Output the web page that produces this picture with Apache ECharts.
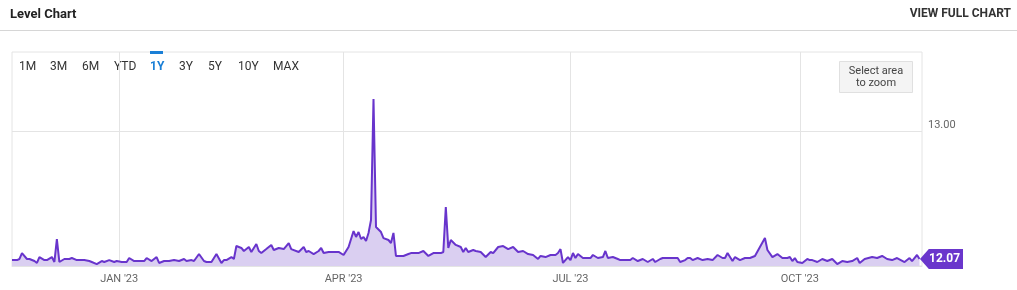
<!DOCTYPE html>
<html>
<head>
<meta charset="utf-8">
<script src="https://cdn.jsdelivr.net/npm/echarts@6/dist/echarts.min.js"></script>
<style>
html,body{margin:0;padding:0;background:#fff;}
#chart{width:1017px;height:290px;}
</style>
</head>
<body>
<div id="chart"></div>
<script>
// ---- data ----
const DATES = [
'2022-11-19','2022-11-21','2022-11-22','2022-11-23','2022-11-25','2022-11-26','2022-11-28','2022-11-29','2022-11-30',
'2022-12-02','2022-12-03','2022-12-05','2022-12-06','2022-12-07','2022-12-08','2022-12-10','2022-12-12','2022-12-13',
'2022-12-15','2022-12-18','2022-12-20','2022-12-21','2022-12-23','2022-12-25','2022-12-26','2022-12-28','2022-12-30','2022-12-31',
'2023-01-02','2023-01-04','2023-01-05','2023-01-07','2023-01-09','2023-01-11','2023-01-12','2023-01-14','2023-01-16','2023-01-17',
'2023-01-19','2023-01-21','2023-01-23','2023-01-25','2023-01-27','2023-01-28','2023-01-30','2023-01-31',
'2023-02-02','2023-02-04','2023-02-05','2023-02-07','2023-02-09','2023-02-11','2023-02-12','2023-02-13','2023-02-15','2023-02-16',
'2023-02-17','2023-02-19','2023-02-20','2023-02-22','2023-02-23','2023-02-25','2023-02-26','2023-02-27',
'2023-03-01','2023-03-03','2023-03-04','2023-03-06','2023-03-08','2023-03-10','2023-03-11','2023-03-14','2023-03-16','2023-03-17',
'2023-03-18','2023-03-20','2023-03-22','2023-03-23','2023-03-24','2023-03-26','2023-03-28','2023-03-30',
'2023-04-01','2023-04-03','2023-04-05','2023-04-06','2023-04-07','2023-04-08','2023-04-09','2023-04-10','2023-04-11','2023-04-12',
'2023-04-13','2023-04-14','2023-04-16','2023-04-17','2023-04-19','2023-04-20','2023-04-21','2023-04-22','2023-04-25','2023-04-27',
'2023-04-28','2023-04-30',
'2023-05-01','2023-05-03','2023-05-05','2023-05-07','2023-05-08','2023-05-10','2023-05-11','2023-05-12','2023-05-13','2023-05-14',
'2023-05-16','2023-05-18','2023-05-19','2023-05-20','2023-05-21','2023-05-23','2023-05-24','2023-05-26','2023-05-28','2023-05-30','2023-05-31',
'2023-06-02','2023-06-04','2023-06-06','2023-06-08','2023-06-10','2023-06-12','2023-06-14','2023-06-16','2023-06-18','2023-06-19',
'2023-06-21','2023-06-23','2023-06-25','2023-06-26','2023-06-27','2023-06-28','2023-06-30',
'2023-07-01','2023-07-02','2023-07-03','2023-07-04','2023-07-06','2023-07-07','2023-07-09','2023-07-10','2023-07-12','2023-07-14',
'2023-07-15','2023-07-16','2023-07-18','2023-07-20','2023-07-21','2023-07-23','2023-07-25','2023-07-26','2023-07-28','2023-07-30',
'2023-08-01','2023-08-03','2023-08-04','2023-08-06','2023-08-07','2023-08-09','2023-08-10','2023-08-12','2023-08-13','2023-08-14',
'2023-08-16','2023-08-17','2023-08-18','2023-08-19','2023-08-21','2023-08-23','2023-08-25','2023-08-27','2023-08-29','2023-08-31',
'2023-09-01','2023-09-02','2023-09-04','2023-09-05','2023-09-07','2023-09-09','2023-09-11','2023-09-13','2023-09-15','2023-09-17',
'2023-09-18','2023-09-20','2023-09-22','2023-09-24','2023-09-26','2023-09-27','2023-09-28','2023-09-29','2023-09-30',
'2023-10-02','2023-10-04','2023-10-05','2023-10-06','2023-10-08','2023-10-10','2023-10-12','2023-10-14','2023-10-16','2023-10-18',
'2023-10-20','2023-10-22','2023-10-24','2023-10-25','2023-10-27','2023-10-30',
'2023-11-01','2023-11-03','2023-11-05','2023-11-07','2023-11-09','2023-11-12','2023-11-14','2023-11-15','2023-11-17','2023-11-18'
];
const VALUES = [
12.062,12.062,12.070,12.113,12.070,12.070,12.055,12.041,12.084,
12.062,12.062,12.084,12.048,12.215,12.048,12.070,12.070,12.077,
12.062,12.062,12.055,12.048,12.033,12.055,12.048,12.062,12.048,12.055,
12.048,12.048,12.077,12.055,12.055,12.055,12.077,12.055,12.084,12.041,
12.055,12.055,12.062,12.055,12.070,12.055,12.062,12.055,
12.106,12.055,12.048,12.048,12.106,12.041,12.062,12.062,12.084,12.070,
12.164,12.150,12.128,12.157,12.121,12.179,12.128,12.113,
12.142,12.172,12.135,12.150,12.142,12.186,12.142,12.121,12.157,12.121,
12.128,12.106,12.128,12.150,12.113,12.121,12.121,12.121,
12.099,12.157,12.273,12.230,12.266,12.215,12.230,12.201,12.259,12.353,
13.233,12.302,12.266,12.222,12.208,12.186,12.259,12.092,12.092,12.106,
12.113,12.113,
12.113,12.128,12.092,12.113,12.113,12.113,12.121,12.448,12.150,12.208,
12.172,12.157,12.121,12.150,12.121,12.135,12.128,12.121,12.084,12.121,12.113,
12.157,12.164,12.142,12.157,12.121,12.128,12.106,12.099,12.070,12.092,
12.084,12.099,12.099,12.113,12.142,12.041,12.084,
12.062,12.113,12.077,12.106,12.077,12.077,12.077,12.099,12.077,12.084,
12.128,12.077,12.084,12.070,12.062,12.062,12.062,12.077,12.055,12.070,
12.048,12.070,12.048,12.070,12.077,12.077,12.077,12.077,12.077,12.048,
12.062,12.077,12.077,12.062,12.077,12.062,12.070,12.062,12.099,12.077,
12.077,12.113,12.055,12.084,12.062,12.077,12.077,12.092,12.157,12.222,
12.135,12.084,12.106,12.077,12.077,12.084,12.055,12.077,12.048,
12.041,12.070,12.062,12.062,12.048,12.070,12.055,12.070,12.033,12.055,
12.048,12.055,12.077,12.041,12.070,12.084,
12.077,12.092,12.070,12.062,12.077,12.048,12.077,12.055,12.099,12.070
];
const X_TICKS = ['2023-01-01','2023-04-01','2023-07-01','2023-10-01'];
const X_TICK_LABELS = ["JAN '23","APR '23","JUL '23","OCT '23"];
const Y_TICKS = [13];
const RANGE_BUTTONS = ['1M','3M','6M','YTD','1Y','3Y','5Y','10Y','MAX'];
const ACTIVE_RANGE = '1Y';
const X_MIN = '2022-11-19', X_MAX = '2023-11-19';
const Y_MIN = 12.019, Y_MAX = 13.574;
const LAST_LABEL = '12.07';

// ---- chart ----
function toTs(s){const p=s.split('-').map(Number);return Date.UTC(p[0],p[1]-1,p[2]);}
const seriesData = DATES.map((d,i)=>[toTs(d),VALUES[i]]);
const xTickTs = X_TICKS.map(toTs);
const FONT = 'Roboto, "Noto Sans", sans-serif';
const LINE = '#6834cc';
const BLUE = '#1a7fd6';

const btnX = [19,50,82,114,150,179,208,238,273];
const graphics = [
  {type:'text', left:10, top:8, style:{text:'Level Chart', font:'bold 13px '+FONT, fill:'#222'}},
  {type:'text', right:6, top:8, style:{text:'VIEW FULL CHART', font:'bold 12px '+FONT, fill:'#333'}},
  {type:'rect', shape:{x:0,y:30,width:1017,height:1}, style:{fill:'#d6d6d6'}},
  {type:'rect', shape:{x:839.5,y:61.5,width:73,height:31}, style:{fill:'#f4f4f4', stroke:'#e0e0e0', lineWidth:1}},
  {type:'text', x:876, y:71, style:{text:'Select area', font:'11px '+FONT, fill:'#444', align:'center', verticalAlign:'middle'}},
  {type:'text', x:876, y:83, style:{text:'to zoom', font:'11px '+FONT, fill:'#444', align:'center', verticalAlign:'middle'}}
];
RANGE_BUTTONS.forEach((b,i)=>{
  const active = b===ACTIVE_RANGE;
  graphics.push({type:'text', x:btnX[i], y:67, style:{text:b, font:(active?'bold ':'')+'12px '+FONT, fill:active?BLUE:'#333', verticalAlign:'middle'}});
  if(active) graphics.push({type:'rect', shape:{x:btnX[i],y:51,width:13,height:3}, style:{fill:BLUE}});
});

const chart = echarts.init(document.getElementById('chart'), null, {renderer:'canvas'});
chart.setOption({
  animation:false,
  backgroundColor:'#fff',
  textStyle:{fontFamily:FONT},
  grid:{left:12, right:95, top:52, bottom:24, show:true, borderColor:'#e4e4e4', borderWidth:1, containLabel:false},
  xAxis:{
    type:'value', min:toTs(X_MIN), max:toTs(X_MAX),
    axisLine:{show:true, lineStyle:{color:'#e4e4e4'}},
    axisTick:{show:false, customValues:xTickTs},
    splitLine:{show:true, lineStyle:{color:'#e4e4e4', width:1}},
    axisLabel:{customValues:xTickTs, color:'#666', fontSize:11, margin:8, fontFamily:FONT,
      formatter:function(v){const i=xTickTs.indexOf(v);return i>=0?X_TICK_LABELS[i]:'';}}
  },
  yAxis:{
    type:'value', position:'right', min:Y_MIN, max:Y_MAX,
    axisLine:{show:false},
    axisTick:{show:false, customValues:Y_TICKS},
    splitLine:{show:true, lineStyle:{color:'#e4e4e4', width:1}},
    axisLabel:{customValues:Y_TICKS, color:'#666', fontSize:11, margin:6, verticalAlign:'bottom', fontFamily:FONT,
      formatter:function(v){return Number(v).toFixed(2);}}
  },
  graphic:graphics,
  series:[{
    type:'line', data:seriesData, showSymbol:false, symbol:'none', clip:false,
    lineStyle:{color:LINE, width:2},
    areaStyle:{color:'#dacff1', opacity:1},
    markPoint:{
      symbol:'path://M0,10 L9,0 L44,0 L44,20 L9,20 Z',
      symbolSize:[43,20], symbolKeepAspect:false, symbolOffset:[22,0],
      itemStyle:{color:'#6a36cc'},
      label:{show:true, color:'#fff', fontWeight:'bold', fontSize:12, fontFamily:FONT, offset:[3,0],
        formatter:function(){return LAST_LABEL;}},
      data:[{coord:seriesData[seriesData.length-1]}]
    }
  }]
});
</script>
</body>
</html>
